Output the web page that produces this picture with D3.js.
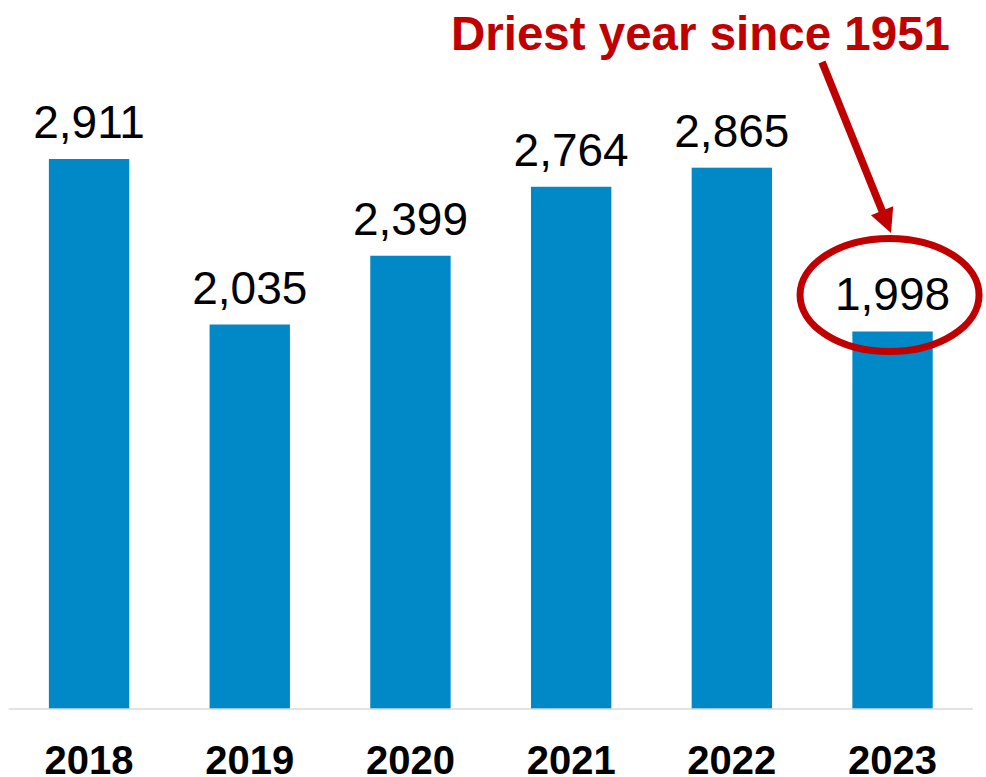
<!DOCTYPE html>
<html>
<head>
<meta charset="utf-8">
<script src="https://cdn.jsdelivr.net/npm/d3@7"></script>
<style>
  html, body { margin: 0; padding: 0; background: #ffffff; }
  svg { display: block; }
</style>
</head>
<body>
<svg id="chart" width="986" height="777"></svg>
<script>
// Annual values by year
const years = ["2018", "2019", "2020", "2021", "2022", "2023"];
const values = [2911, 2035, 2399, 2764, 2865, 1998];
const highlightYear = "2023";
const calloutText = "Driest year since 1951";

const W = 986, H = 777;
const baseY = 709;
const svg = d3.select("#chart");
const font = "'Liberation Sans', Arial, Helvetica, sans-serif";
const red = "#c00000";

const x = d3.scaleBand()
  .domain(years)
  .range([8.7, 972.9])
  .paddingInner(0.5)
  .paddingOuter(0.25);

const y = d3.scaleLinear()
  .domain([0, 3000])
  .range([baseY, baseY - 3000 * 0.18894]);

const data = years.map((yr, i) => ({ year: yr, value: values[i] }));

// Bars
svg.append("g")
  .selectAll("rect")
  .data(data)
  .join("rect")
  .attr("x", d => x(d.year))
  .attr("y", d => y(d.value))
  .attr("width", x.bandwidth())
  .attr("height", d => y(0) - y(d.value))
  .attr("fill", "#0189c7");

// Baseline axis
const axis = svg.append("g")
  .attr("transform", `translate(0,${baseY})`)
  .call(d3.axisBottom(x).tickSize(0).tickPadding(0));
axis.select(".domain")
  .attr("d", `M${x.range()[0]},0H${x.range()[1]}`)
  .attr("stroke", "#d9d9d9")
  .attr("stroke-width", 1.5);
axis.selectAll(".tick text")
  .attr("y", 65)
  .attr("dy", null)
  .attr("font-family", font)
  .attr("font-size", 40)
  .attr("font-weight", "bold")
  .attr("fill", "#000");

// Value labels
const fmt = d3.format(",");
svg.append("g")
  .selectAll("text")
  .data(data)
  .join("text")
  .attr("x", d => x(d.year) + x.bandwidth() / 2)
  .attr("y", d => y(d.value) - 21)
  .attr("text-anchor", "middle")
  .attr("font-family", font)
  .attr("font-size", 46)
  .attr("fill", "#000")
  .text(d => fmt(d.value));

// Callout: ellipse around the highlighted label, arrow from the caption
const hl = data.find(d => d.year === highlightYear);
const cx = x(hl.year) + x.bandwidth() / 2 - 3;
const cy = y(hl.value) - 36.5;

svg.append("ellipse")
  .attr("cx", cx)
  .attr("cy", cy)
  .attr("rx", 89.5)
  .attr("ry", 56.5)
  .attr("fill", "none")
  .attr("stroke", red)
  .attr("stroke-width", 7);

const start = [822, 62];
const tip = [cx + 1.5, cy - 62];
const dx = tip[0] - start[0], dy = tip[1] - start[1];
const len = Math.hypot(dx, dy);
const ux = dx / len, uy = dy / len;
const headLen = 24, headHalf = 12;
const bx = tip[0] - ux * headLen, by = tip[1] - uy * headLen;

svg.append("line")
  .attr("x1", start[0]).attr("y1", start[1])
  .attr("x2", bx + ux * 2).attr("y2", by + uy * 2)
  .attr("stroke", red)
  .attr("stroke-width", 7.5);

svg.append("path")
  .attr("d", `M${tip[0]},${tip[1]}L${bx - uy * headHalf},${by + ux * headHalf}L${bx + uy * headHalf},${by - ux * headHalf}Z`)
  .attr("fill", red);

svg.append("text")
  .attr("x", 950)
  .attr("y", 50)
  .attr("text-anchor", "end")
  .attr("font-family", font)
  .attr("font-size", 47.5)
  .attr("font-weight", "bold")
  .attr("fill", red)
  .text(calloutText);
</script>
</body>
</html>
